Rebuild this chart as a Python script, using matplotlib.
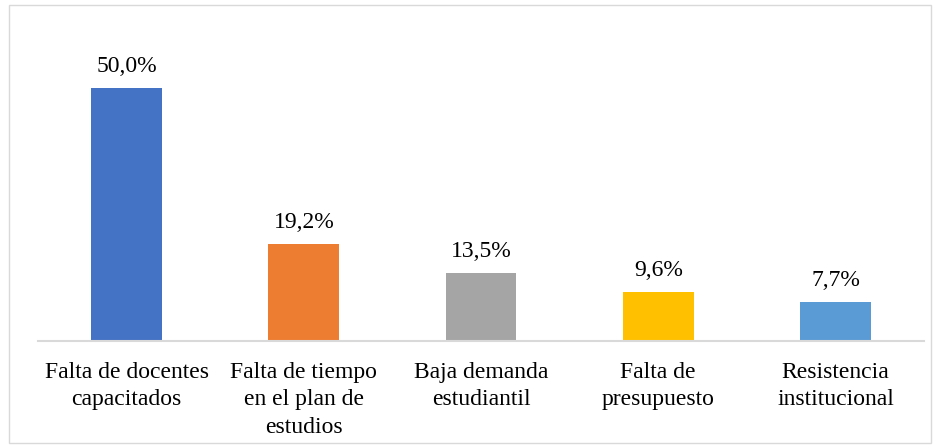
import matplotlib.pyplot as plt
from matplotlib.patches import Rectangle

# data
categorias = ["Falta de docentes\ncapacitados", "Falta de tiempo\nen el plan de\nestudios",
              "Baja demanda\nestudiantil", "Falta de\npresupuesto", "Resistencia\ninstitucional"]
valores = [50.0, 19.2, 13.5, 9.6, 7.7]
colores = ["#4472C4", "#ED7D31", "#A5A5A5", "#FFC000", "#5B9BD5"]

plt.rcParams['font.family'] = ['Liberation Serif', 'DejaVu Serif']

fig = plt.figure(figsize=(9.41, 4.48), dpi=100)
ax = fig.add_axes([0.0404, 0.2388, 0.9416, 0.6777])

x = range(len(valores))
bars = ax.bar(x, valores, width=0.4, color=colores)
for b, v in zip(bars, valores):
    ax.text(b.get_x() + b.get_width() / 2, v + 2.2, f"{v:.1f}%".replace(".", ","),
            ha="center", va="bottom", fontsize=17)

ax.set_xlim(-0.5, len(valores) - 0.5)
ax.set_ylim(0, 60)
ax.set_xticks(list(x))
ax.set_xticklabels(categorias, fontsize=17, linespacing=1.4, va="top")
ax.tick_params(axis="x", length=0, pad=15)
ax.set_yticks([])
for s in ["top", "right", "left"]:
    ax.spines[s].set_visible(False)
ax.spines["bottom"].set_color("#D9D9D9")
ax.spines["bottom"].set_linewidth(1.5)

# chart border
fig.patches.append(Rectangle((9 / 941, 5 / 448), 922 / 941, 438 / 448, transform=fig.transFigure,
                             fill=False, edgecolor="#D9D9D9", linewidth=1))

fig.savefig("out.png", dpi=100)
